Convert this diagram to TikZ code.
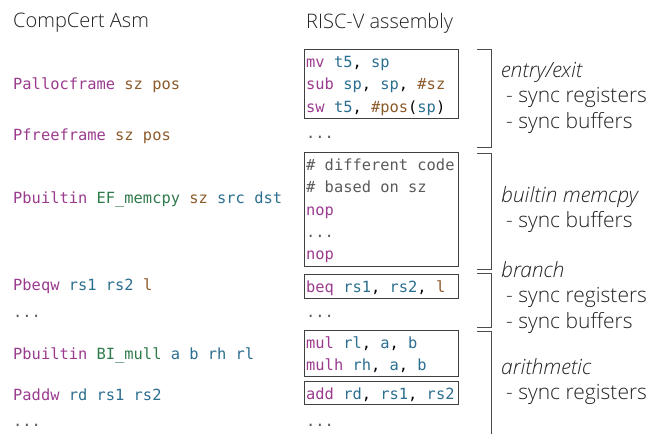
\documentclass[tikz,border=0pt]{standalone}
\usepackage{fontspec}
\setmainfont{Open Sans}[UprightFont=* Light, ItalicFont=* Light Italic]
\setmonofont{DejaVu Sans Mono}
\usepackage{tikz}
\usetikzlibrary{positioning}
\usepackage{xcolor}
\definecolor{AsmOp}{HTML}{9B3B8E}
\definecolor{AsmReg}{HTML}{2B6E8F}
\definecolor{AsmImm}{HTML}{8C5A2A}
\definecolor{AsmFun}{HTML}{2F7A4A}
\definecolor{AsmCmt}{HTML}{5A5A5A}
\definecolor{TextMain}{HTML}{222222}
\newcommand{\asmop}[1]{\textcolor{AsmOp}{#1}}
\newcommand{\asmreg}[1]{\textcolor{AsmReg}{#1}}
\newcommand{\asmimm}[1]{\textcolor{AsmImm}{#1}}
\newcommand{\asmfun}[1]{\textcolor{AsmFun}{#1}}
\newcommand{\asmcmt}[1]{\textcolor{AsmCmt}{#1}}
% keep full-width spaces inside the ragged code boxes, and a taller first line
\newcommand{\fullspaces}{\spaceskip=0pt\xspaceskip=0pt\relax\rule{0pt}{15pt}}
\tikzset{
  header/.style={anchor=west,inner sep=0pt,text=TextMain,font=\fontsize{20}{24}\selectfont},
  asmline/.style={anchor=west,inner sep=0pt,font=\ttfamily\fontsize{15.4}{22.5}\selectfont},
  codebox/.style={draw=black!75,anchor=north west,align=left,text width=150pt,inner xsep=2pt,inner ysep=3pt,
    font=\ttfamily\fontsize{15.4}{22.4}\selectfont,execute at begin node=\fullspaces},
  dots/.style={anchor=west,inner sep=0pt,text=AsmCmt,font=\ttfamily\fontsize{15.4}{22.5}\selectfont},
  bracket/.style={draw=black!70,thick},
  remark/.style={anchor=north west,align=left,inner sep=0pt,text=TextMain,font=\fontsize{21}{25.5}\selectfont}
}

\begin{document}
\begin{tikzpicture}[x=1pt,y=-1pt]
\useasboundingbox (0,0) rectangle (667,434);
% column titles
\node[header] (hasm) at (13,23) {CompCert Asm};
\node[header] (hrv) at (306,23) {RISC-V assembly};
% CompCert side
\node[asmline] (alloc) at (13,85) {\asmop{Pallocframe} \asmimm{sz pos}};
\node[asmline] (free) at (13,136) {\asmop{Pfreeframe} \asmimm{sz pos}};
\node[asmline] (memcpy) at (13,199) {\asmop{Pbuiltin} \asmfun{EF\_memcpy} \asmimm{sz} \asmreg{src dst}};
\node[asmline] (beqw) at (13,286) {\asmop{Pbeqw} \asmreg{rs1 rs2} \asmimm{l}};
\node[dots] (ldots1) at (13,316) {...};
\node[asmline] (mull) at (13,355) {\asmop{Pbuiltin} \asmfun{BI\_mull} \asmreg{a b rh rl}};
\node[asmline] (addw) at (13,395) {\asmop{Paddw} \asmreg{rd rs1 rs2}};
\node[dots] (ldots2) at (13,425) {...};
% RISC-V side
\node[codebox] (bframe) at (304,49) {\asmop{mv} \asmreg{t5}, \asmreg{sp}\\
  \asmop{sub} \asmreg{sp}, \asmreg{sp}, \asmimm{\#sz}\\
  \asmop{sw} \asmreg{t5}, \asmimm{\#pos}(\asmreg{sp})};
\node[dots] (rdots1) at (306,137) {...};
\node[codebox] (bmemcpy) at (304,152) {\asmcmt{\# different code}\\
  \asmcmt{\# based on sz}\\
  \asmop{nop}\\
  \asmcmt{...}\\
  \asmop{nop}};
\node[codebox] (bbeq) at (304,274) {\asmop{beq} \asmreg{rs1}, \asmreg{rs2}, \asmimm{l}};
\node[dots] (rdots2) at (306,316) {...};
\node[codebox] (bmul) at (304,330) {\asmop{mul} \asmreg{rl}, \asmreg{a}, \asmreg{b}\\
  \asmop{mulh} \asmreg{rh}, \asmreg{a}, \asmreg{b}};
\node[codebox] (badd) at (304,381) {\asmop{add} \asmreg{rd}, \asmreg{rs1}, \asmreg{rs2}};
\node[dots] (rdots3) at (306,425) {...};
% groups
\draw[bracket] (477,49) -- (491,49) -- (491,147) -- (477,147);
\draw[bracket] (477,153) -- (491,153) -- (491,269) -- (477,269);
\draw[bracket] (477,273) -- (491,273) -- (491,327) -- (477,327);
\draw[bracket] (477,331) -- (491,331) -- (491,434);
\node[remark] (rentry) at (501,62) {\textit{entry/exit}\\\hspace{5pt}- sync registers\\\hspace{5pt}- sync buffers};
\node[remark] (rmemcpy) at (501,186) {\textit{builtin memcpy}\\\hspace{5pt}- sync buffers};
\node[remark] (rbranch) at (501,261) {\textit{branch}\\\hspace{5pt}- sync registers\\\hspace{5pt}- sync buffers};
\node[remark] (rarith) at (501,358) {\textit{arithmetic}\\\hspace{5pt}- sync registers};
\end{tikzpicture}
\end{document}
